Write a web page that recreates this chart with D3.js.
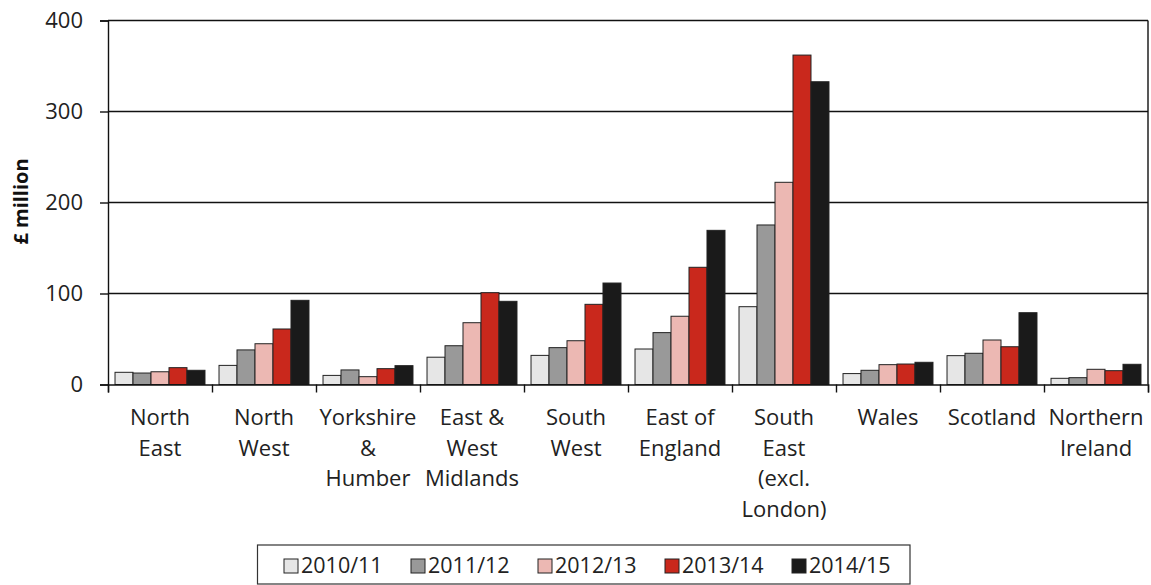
<!DOCTYPE html>
<html>
<head>
<meta charset="utf-8">
<script src="https://cdn.jsdelivr.net/npm/d3@7"></script>
<style>
  body { margin: 0; background: #fff; }
  svg { display: block; font-family: "Open Sans", "Noto Sans", sans-serif; }
</style>
</head>
<body>
<div id="container"></div>
<script>
// regions (label lines) and the five yearly series, £ million
const regions = [
  ["North", "East"],
  ["North", "West"],
  ["Yorkshire", "&", "Humber"],
  ["East &", "West", "Midlands"],
  ["South", "West"],
  ["East of", "England"],
  ["South", "East", "(excl.", "London)"],
  ["Wales"],
  ["Scotland"],
  ["Northern", "Ireland"]
];
const years = ["2010/11", "2011/12", "2012/13", "2013/14", "2014/15"];
const colours = ["#e6e6e6", "#999999", "#ecb8b3", "#c9281c", "#1a1a1a"];

const v2010 = [13.4, 21, 10, 30, 32, 39, 85.5, 12, 31.7, 6.8];
const v2011 = [12.6, 38, 16, 42.6, 40.5, 57, 175.3, 15.6, 34.3, 7.5];
const v2012 = [14, 44.8, 8.6, 67.9, 48.1, 75, 222.2, 21.8, 48.9, 16.7];
const v2013 = [18.5, 61, 17.4, 100.9, 88.1, 128.8, 362, 22.5, 41.5, 15.2];
const v2014 = [15.6, 92.5, 20.7, 91.4, 111.5, 169.4, 332.7, 24.4, 78.9, 22.2];
const series = [v2010, v2011, v2012, v2013, v2014];

const yTicks = [0, 100, 200, 300, 400];

const w = 1151;
const h = 585;
const plotLeft = 108, plotRight = 1148, plotTop = 20.5, plotBottom = 384.5;

const svg = d3.select("#container").append("svg")
  .attr("width", w)
  .attr("height", h);

const x0 = d3.scaleBand()
  .domain(d3.range(regions.length))
  .range([plotLeft, plotRight])
  .paddingInner(0)
  .paddingOuter(0);

const x1 = d3.scaleBand()
  .domain(d3.range(years.length))
  .range([0, x0.bandwidth()])
  .paddingInner(0)
  .paddingOuter(0.39);

const yScale = d3.scaleLinear()
  .domain([0, 400])
  .range([plotBottom, plotTop]);

// gridlines
svg.append("g")
  .selectAll("line")
  .data(yTicks.filter(d => d > 0))
  .enter().append("line")
  .attr("x1", plotLeft).attr("x2", plotRight)
  .attr("y1", d => yScale(d)).attr("y2", d => yScale(d))
  .attr("stroke", "#111").attr("stroke-width", 1.4);

// right border
svg.append("line")
  .attr("x1", plotRight).attr("x2", plotRight)
  .attr("y1", plotTop).attr("y2", plotBottom)
  .attr("stroke", "#111").attr("stroke-width", 1.4);

// bars
series.forEach((vals, si) => {
  svg.append("g")
    .selectAll("rect")
    .data(vals)
    .enter().append("rect")
    .attr("x", (d, i) => x0(i) + x1(si))
    .attr("y", d => yScale(d))
    .attr("width", x1.bandwidth())
    .attr("height", d => plotBottom - yScale(d))
    .attr("fill", colours[si])
    .attr("stroke", "#222")
    .attr("stroke-width", 1);
});

// y axis
const yAxis = d3.axisLeft(yScale).tickValues(yTicks).tickSize(8).tickPadding(17);
svg.append("g")
  .attr("transform", `translate(${plotLeft}, 0)`)
  .call(yAxis)
  .call(g => g.select(".domain").attr("stroke", "#111").attr("stroke-width", 1.4))
  .call(g => g.selectAll(".tick line").attr("stroke", "#111").attr("stroke-width", 1.4))
  .call(g => g.selectAll("text")
    .attr("font-size", 22)
    .attr("font-family", "'Open Sans', sans-serif")
    .attr("fill", "#222"));

// x axis with ticks at category boundaries
const xb = d3.scaleLinear().domain([0, regions.length]).range([plotLeft, plotRight]);
const xAxis = d3.axisBottom(xb).ticks(regions.length).tickSize(8).tickFormat("");
svg.append("g")
  .attr("transform", `translate(0, ${plotBottom})`)
  .call(xAxis)
  .call(g => g.select(".domain").attr("stroke", "#111").attr("stroke-width", 1.4))
  .call(g => g.selectAll(".tick line").attr("stroke", "#111").attr("stroke-width", 1.4));

// category labels
const labels = svg.append("g")
  .selectAll("text")
  .data(regions)
  .enter().append("text")
  .attr("text-anchor", "middle")
  .attr("font-size", 22)
  .attr("fill", "#222")
  .attr("transform", (d, i) => `translate(${x0(i) + x0.bandwidth() / 2}, 425)`);
labels.selectAll("tspan")
  .data(d => d)
  .enter().append("tspan")
  .attr("x", 0)
  .attr("y", (d, i) => i * 30.5)
  .text(d => d);

// y title
svg.append("text")
  .attr("transform", `translate(28, 201.5) rotate(-90)`)
  .attr("text-anchor", "middle")
  .attr("font-size", 20)
  .attr("font-weight", "bold")
  .attr("fill", "#111")
  .text("£ million");

// legend
const legend = svg.append("g");
legend.append("rect")
  .attr("x", 257.5).attr("y", 545)
  .attr("width", 652.5).attr("height", 39)
  .attr("fill", "#fff")
  .attr("stroke", "#333").attr("stroke-width", 1.2);

const items = legend.selectAll("g.item")
  .data(years)
  .enter().append("g")
  .attr("class", "item")
  .attr("transform", (d, i) => `translate(${284 + i * 127}, 559)`);
items.append("rect")
  .attr("width", 14).attr("height", 14)
  .attr("fill", (d, i) => colours[i])
  .attr("stroke", "#222").attr("stroke-width", 1);
items.append("text")
  .attr("x", 17).attr("y", 14)
  .attr("font-size", 21.5)
  .attr("fill", "#222")
  .text(d => d);
</script>
</body>
</html>
